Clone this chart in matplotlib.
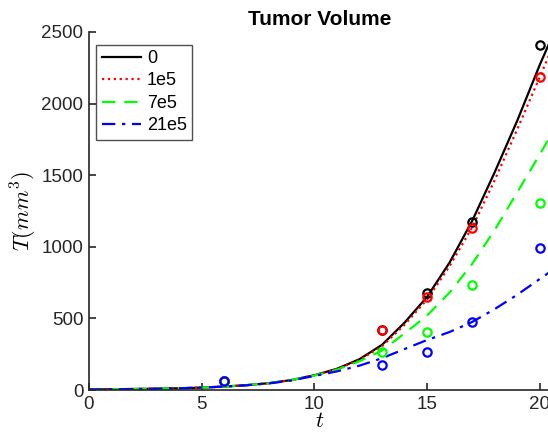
import numpy as np
import matplotlib.pyplot as plt

plt.rcParams['font.family'] = ['Liberation Sans', 'DejaVu Sans']
plt.rcParams['mathtext.fontset'] = 'cm'

# model curves
t = [0, 1, 2, 3, 4, 5, 6, 7, 8, 9, 10, 11, 12, 13, 14, 15, 16, 17, 18, 19, 20, 20.5]
T_0 = [4, 5, 7, 9, 12, 17, 24, 34, 48, 70, 103, 148, 215, 315, 470, 650, 890, 1180, 1520, 1880, 2270, 2450]
T_1e5 = [4, 5, 7, 9, 12, 17, 24, 34, 48, 70, 103, 147, 210, 305, 455, 632, 865, 1135, 1465, 1820, 2185, 2370]
T_7e5 = [4, 5, 7, 9, 12, 17, 24, 34, 48, 70, 101, 142, 200, 275, 395, 520, 680, 880, 1117, 1380, 1645, 1780]
T_21e5 = [4, 5, 7, 9, 12, 17, 24, 33, 46, 67, 98, 130, 170, 222, 286, 349, 405, 475, 565, 665, 775, 830]

# measured points
t_obs = [6, 13, 15, 17, 20]
obs_0 = [63, 419, 675, 1172, 2409]
obs_1e5 = [63, 419, 647, 1132, 2186]
obs_7e5 = [63, 263, 405, 730, 1308]
obs_21e5 = [63, 178, 268, 475, 990]

labels = ['0', '1e5', '7e5', '21e5']
colors = ['k', '#ff0000', '#00ff00', '#0000ff']
styles = ['-', ':', (0, (6, 4)), (0, (6, 3, 1.5, 3))]

fig = plt.figure(figsize=(5.48, 4.40), dpi=100)
ax = fig.add_axes([89/548, 1 - 390/440, 462/548, 358/440])

curves = [T_0, T_1e5, T_7e5, T_21e5]
points = [obs_0, obs_1e5, obs_7e5, obs_21e5]
for T, lab, c, ls in zip(curves, labels, colors, styles):
    ax.plot(t, T, color=c, linestyle=ls, lw=1.6, label=lab)
for P, c in zip(points, colors):
    ax.plot(t_obs, P, 'o', mfc='none', mec=c, mew=1.6, ms=6)

ax.set_xlim(0, 20.5)
ax.set_ylim(0, 2500)
ax.set_xticks([0, 5, 10, 15, 20])
ax.set_yticks([0, 500, 1000, 1500, 2000, 2500])
ax.spines['top'].set_visible(False)
ax.spines['right'].set_visible(False)
for s in ['left', 'bottom']:
    ax.spines[s].set_linewidth(1.2)
    ax.spines[s].set_color('#262626')
ax.tick_params(direction='in', length=5, width=1.2, labelsize=13.5,
               colors='#262626', pad=4)

ax.set_xlabel('$t$', fontsize=16, labelpad=-1)
ax.set_ylabel('$T(mm^3)$', fontsize=16, labelpad=2)
ax.set_title('Tumor Volume', fontsize=15, fontweight='bold', pad=5)

leg = ax.legend(loc='upper left', bbox_to_anchor=(0.0, 0.985), fontsize=13,
                frameon=True, fancybox=False, handlelength=2.2,
                handletextpad=0.3, borderpad=0.3, labelspacing=0.3,
                borderaxespad=0.4)
leg.get_frame().set_edgecolor('#262626')
leg.get_frame().set_linewidth(1.0)

fig.savefig('out.png', dpi=100)
